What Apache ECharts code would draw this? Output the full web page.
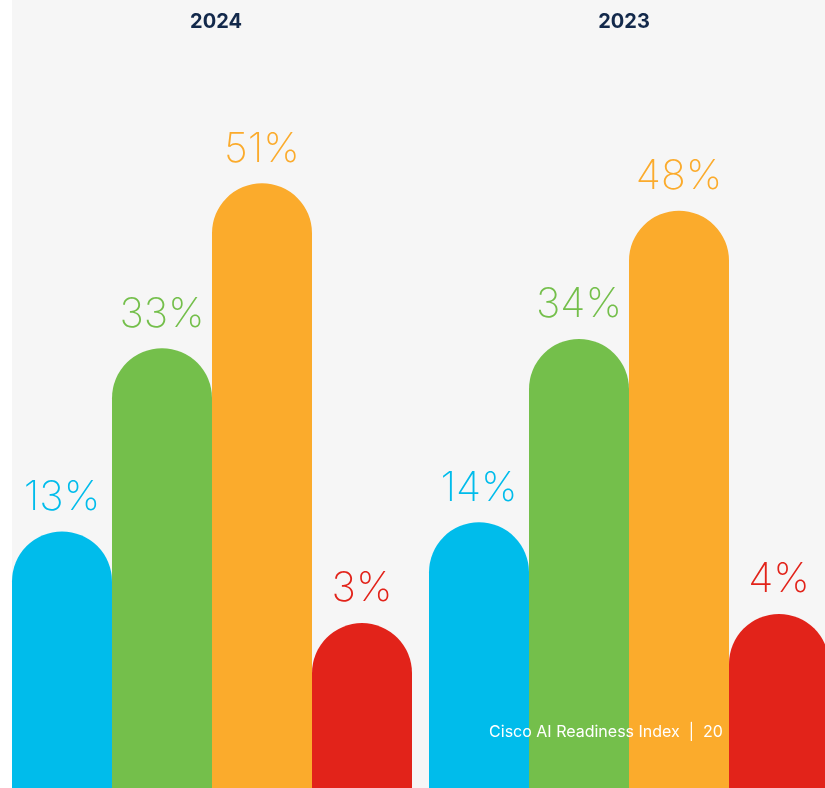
<!DOCTYPE html>
<html><head><meta charset="utf-8">
<script src="https://cdn.jsdelivr.net/npm/echarts@6/dist/echarts.min.js"></script>
<style>html,body{margin:0;padding:0;background:#fff;overflow:hidden}#c{width:829px;height:788px}</style>
</head><body><div id="c"></div>
<script>
const categories = ['Group 1', 'Group 2', 'Group 3', 'Group 4'];
const values2024 = [13, 33, 51, 3];
const values2023 = [14, 34, 48, 4];
const panelTitles = ['2024', '2023'];
const barColors = ['#00bceb', '#74bf4b', '#fbab2c', '#e2231a'];
const footerText = 'Cisco AI Readiness Index  |  20';

const chart = echarts.init(document.getElementById('c'));

function renderBar(params, api) {
  const idx = api.value(0);
  const val = api.value(1);
  const top = api.coord([idx, val]);
  const w = api.size([1, 0])[0];
  const cs = params.coordSys;
  const bottom = cs.y + cs.height;
  const color = barColors[idx];
  return {
    type: 'group',
    children: [
      { type: 'rect', shape: { x: top[0] - w / 2, y: top[1], width: w, height: bottom - top[1], r: [w / 2, w / 2, 0, 0] },
        style: { fill: color } },
      { type: 'text', x: top[0], y: top[1] - 34,
        style: { text: val + '%', fill: color, font: '200 41px Inter, "Noto Sans", sans-serif', align: 'center', verticalAlign: 'middle' } }
    ]
  };
}

const yMin = -15, yMax = 71;
chart.setOption({
  animation: false,
  graphic: [
    { type: 'rect', z: -10, shape: { x: 12, y: 0, width: 817, height: 788 }, style: { fill: '#f6f6f6' } },
    { type: 'text', z: 10, x: 216, y: 22, style: { text: panelTitles[0], fill: '#13294b', font: 'bold 20px Inter, "Noto Sans", sans-serif', align: 'center', verticalAlign: 'middle' } },
    { type: 'text', z: 10, x: 624, y: 22, style: { text: panelTitles[1], fill: '#13294b', font: 'bold 20px Inter, "Noto Sans", sans-serif', align: 'center', verticalAlign: 'middle' } },
    { type: 'text', z: 100, x: 606, y: 732, style: { text: footerText, fill: '#ffffff', font: '16px Inter, "Noto Sans", sans-serif', align: 'center', verticalAlign: 'middle' } }
  ],
  grid: [
    { left: 12, top: 0, width: 400, bottom: 0 },
    { left: 429, top: 0, width: 400, bottom: 0 }
  ],
  xAxis: [
    { type: 'category', gridIndex: 0, data: categories, show: false },
    { type: 'category', gridIndex: 1, data: categories, show: false }
  ],
  yAxis: [
    { type: 'value', gridIndex: 0, min: yMin, max: yMax, show: false },
    { type: 'value', gridIndex: 1, min: yMin, max: yMax, show: false }
  ],
  series: [
    { type: 'custom', xAxisIndex: 0, yAxisIndex: 0, renderItem: renderBar, clip: false,
      data: values2024.map((v, i) => [i, v]) },
    { type: 'custom', xAxisIndex: 1, yAxisIndex: 1, renderItem: renderBar, clip: false,
      data: values2023.map((v, i) => [i, v]) }
  ]
});
</script></body></html>
